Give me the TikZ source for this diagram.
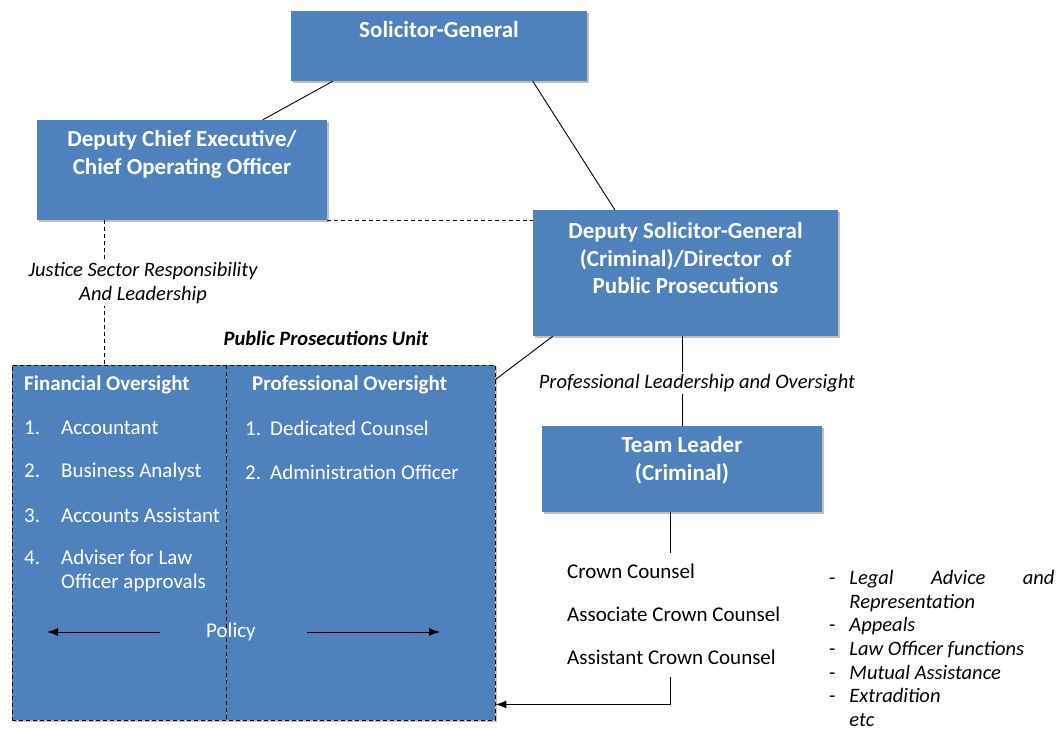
\documentclass[tikz,border=0pt]{standalone}
\usepackage{fontspec}
\setmainfont{Carlito}
\usetikzlibrary{shadows,arrows.meta}
\definecolor{boxblue}{HTML}{4F81BD}

\begin{document}
\begin{tikzpicture}[x=1pt,y=-1pt,
  box/.style={fill=boxblue, inner sep=0,
    drop shadow={shadow xshift=2pt, shadow yshift=-2pt, fill=black!50, opacity=.5}},
  boxtitle/.style={text=white, font=\fontsize{23}{27.5}\selectfont\bfseries, align=center},
  head/.style={text=white, font=\fontsize{21}{24}\selectfont\bfseries, anchor=west, inner sep=0},
  unititem/.style={text=white, font=\fontsize{21}{24}\selectfont, anchor=west, inner sep=0, align=left},
  note/.style={font=\fontsize{20.5}{24}\selectfont\itshape, align=center, fill=white, inner sep=2pt},
  counsel/.style={font=\fontsize{21}{24}\selectfont, anchor=west, inner sep=0},
  dashline/.style={dash pattern=on 4pt off 3pt, line width=.9pt},
  link/.style={line width=.9pt},
  arrowline/.style={-{Latex[length=11pt,width=8pt]}, line width=1pt}]
\useasboundingbox (0,0) rectangle (1064,731);

% boxes
\node[box, minimum width=296, minimum height=70] (sg) at (439,46) {};
\node[boxtitle] at (439,30) {Solicitor-General};
\node[box, minimum width=290, minimum height=100] (dce) at (182,170) {};
\node[boxtitle] at (182,154.5) {Deputy Chief Executive/\\Chief Operating Officer};
\node[box, minimum width=305, minimum height=126] (dsg) at (685.5,273) {};
\node[boxtitle] at (685.5,258.5) {Deputy Solicitor-General\\(Criminal)/Director\ \ of\\Public Prosecutions};
\node[box, minimum width=280, minimum height=86] (tl) at (682,469) {};
\node[boxtitle] at (682,460) {Team Leader\\(Criminal)};
\node[box, draw=black, dashline, minimum width=483, minimum height=355] (unit) at (253.5,542.5) {};

% links between the boxes
\draw[link] ([xshift=42pt]sg.south west) -- ([xshift=226pt]dce.north west);
\draw[link] ([xshift=242pt]sg.south west) -- ([xshift=82pt]dsg.north west);
\draw[dashline] (dce.south east) -- (dce.south east -| dsg.west);
\draw[dashline] ([xshift=68pt]dce.south west) -- ([xshift=68pt]dce.south west |- unit.north);
\node[note] (jsr) at (143,283) {Justice Sector Responsibility\\And Leadership};
\draw[link] ([xshift=20pt]dsg.south west) -- ([yshift=-15pt]unit.north east);
\draw[link] (tl.north |- dsg.south) -- (tl.north);
\node[note] (plo) at (697,383) {Professional Leadership and Oversight};
\node[font=\fontsize{20.5}{24}\selectfont\bfseries\itshape] (ppu) at (326,338) {Public Prosecutions Unit};

% inside the unit
\draw[dashline] ([xshift=215pt]unit.north west) -- ([xshift=215pt]unit.south west);
\node[head] (fin) at (24,385) {Financial Oversight};
\node[head] (prof) at (252,385) {Professional Oversight};
\node[unititem] (f1) at (24,428) {\makebox[37pt][l]{1.}Accountant};
\node[unititem] (f2) at (24,472) {\makebox[37pt][l]{2.}Business Analyst};
\node[unititem] (f3) at (24,515) {\makebox[37pt][l]{3.}Accounts Assistant};
\node[unititem] (f4) at (24,571) {\makebox[37pt][l]{4.}Adviser for Law\\\hspace*{37pt}Officer approvals};
\node[unititem] (p1) at (245,428) {\makebox[25pt][l]{1.}Dedicated Counsel};
\node[unititem] (p2) at (245,472) {\makebox[25pt][l]{2.}Administration Officer};
\node[unititem, anchor=center] (pol) at (231,632) {Policy};
\coordinate (polL) at (47,632);
\coordinate (polR) at (440,632);
\draw[arrowline] (pol.west -| 160,0) -- (polL);
\draw[arrowline] (pol.east -| 307,0) -- (polR);

% counsel under the team leader
\coordinate (tlx) at ([xshift=-12pt]tl.south);
\coordinate (cctop) at (670,553);
\draw[link] (tlx) -- (cctop);
\node[counsel] (cc1) at (567,571) {Crown Counsel};
\node[counsel] (cc2) at (567,614) {Associate Crown Counsel};
\node[counsel] (cc3) at (567,657) {Assistant Crown Counsel};
\coordinate (fork) at (670,677);
\coordinate (entry) at ([yshift=16pt]unit.south east);
\draw[arrowline] (fork) |- (entry);

% duties
\node[anchor=north west, inner sep=0, font=\fontsize{20.5}{23.6}\selectfont] (duties) at (829,568) {%
\begin{tabular}{@{}l@{\hspace{14pt}}p{205pt}@{}}
- & \textit{Legal\hfill Advice\hfill and}\\
  & \textit{Representation}\\
- & \textit{Appeals}\\
- & \textit{Law Officer functions}\\
- & \textit{Mutual Assistance}\\
- & \textit{Extradition}\\
  & \textit{etc}\rule[-1pt]{0pt}{1pt}
\end{tabular}};
\end{tikzpicture}
\end{document}
